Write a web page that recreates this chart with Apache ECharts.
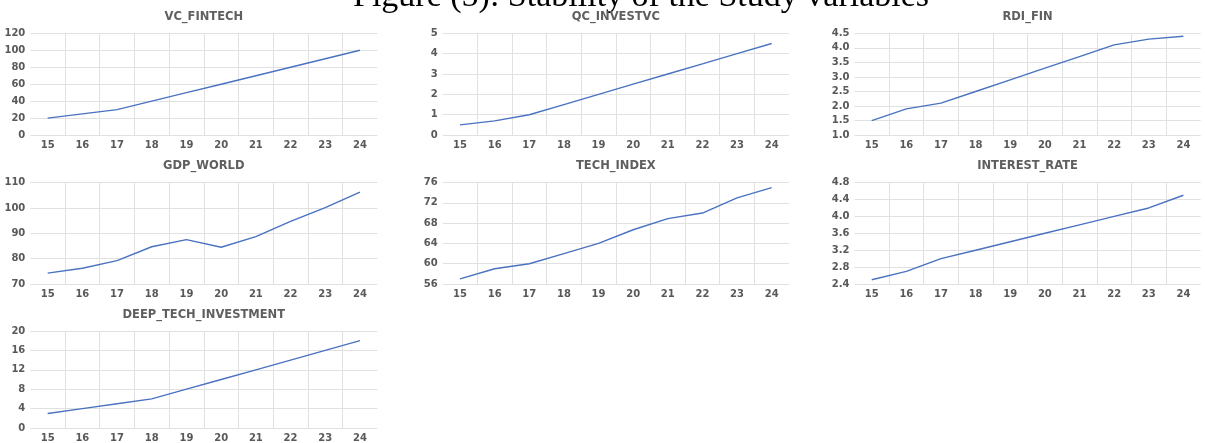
<!DOCTYPE html>
<html>
<head>
<meta charset="utf-8">
<script src="https://cdn.jsdelivr.net/npm/echarts@6/dist/echarts.min.js"></script>
<style>
html,body{margin:0;padding:0;background:#fff;overflow:hidden;}
#c{width:1205px;height:443px;}
</style>
</head>
<body>
<div id="c"></div>
<script>
var years = ['15','16','17','18','19','20','21','22','23','24'];
var figureTitle = 'Figure (5): Stability of the Study variables';
var panelTitles = ['VC_FINTECH','QC_INVESTVC','RDI_FIN','GDP_WORLD','TECH_INDEX','INTEREST_RATE','DEEP_TECH_INVESTMENT'];

var vcFintech = [20, 25, 30, 40, 50, 60, 70, 80, 90, 100];
var qcInvestvc = [0.5, 0.7, 1.0, 1.5, 2.0, 2.5, 3.0, 3.5, 4.0, 4.5];
var rdiFin = [1.5, 1.9, 2.1, 2.5, 2.9, 3.3, 3.7, 4.1, 4.3, 4.4];
var gdpWorld = [74.3, 76.2, 79.2, 84.7, 87.5, 84.5, 88.7, 94.7, 100.1, 106.2];
var techIndex = [57, 59, 60, 62, 64, 66.7, 68.9, 70, 73, 75];
var interestRate = [2.5, 2.7, 3.0, 3.2, 3.4, 3.6, 3.8, 4.0, 4.2, 4.5];
var deepTech = [3, 4, 5, 6, 8, 10, 12, 14, 16, 18];

var yMin = [0, 0, 1.0, 70, 56, 2.4, 0];
var yMax = [120, 5, 4.5, 110, 76, 4.8, 20];
var yStep = [20, 1, 0.5, 10, 4, 0.4, 4];
var yDecimals = [0, 0, 1, 0, 0, 1, 0];

var seriesData = [vcFintech, qcInvestvc, rdiFin, gdpWorld, techIndex, interestRate, deepTech];

// layout (pixels)
var colLeft = [30.3, 442.7, 854.4];
var colWidth = [347, 346.3, 346.3];
var rowTop = [33.3, 182.6, 331];
var rowHeight = [101.8, 101.4, 103];
var titleCenterY = [16.7, 166, 314.7];

var textColor = '#595959';
var gridColor = '#e1e1e1';
var lineColor = '#4a72c0';
var font = '"DejaVu Sans", "Open Sans", sans-serif';

var grids = [], xAxes = [], yAxes = [], series = [], titles = [];
for (var i = 0; i < 7; i++) {
  var r = Math.floor(i / 3), c = i % 3;
  grids.push({left: colLeft[c], top: rowTop[r], width: colWidth[c], height: rowHeight[r], containLabel: false});
  titles.push({
    text: panelTitles[i],
    left: colLeft[c] + colWidth[c] / 2,
    top: titleCenterY[r] - 7,
    padding: 0,
    textAlign: 'center',
    textStyle: {fontFamily: font, fontSize: 11.5, fontWeight: 'bold', color: '#5f5f5f', lineHeight: 14}
  });
  (function(d){
    yAxes.push({
      type: 'value', gridIndex: i, min: yMin[i], max: yMax[i], interval: yStep[i],
      axisLine: {show: false}, axisTick: {show: false},
      axisLabel: {color: textColor, fontFamily: font, fontSize: 10, fontWeight: 'bold', margin: 5,
        formatter: function(v){ return v.toFixed(d); }},
      splitLine: {show: true, lineStyle: {color: gridColor, width: 1}}
    });
  })(yDecimals[i]);
  xAxes.push({
    type: 'category', gridIndex: i, data: years, boundaryGap: true,
    axisLine: {show: false}, axisTick: {show: false},
    axisLabel: {color: textColor, fontFamily: font, fontSize: 10, fontWeight: 'bold', margin: 5, interval: 0},
    splitLine: {show: true, showMinLine: false, showMaxLine: false, interval: 0, lineStyle: {color: gridColor, width: 1}}
  });
  series.push({
    type: 'line', xAxisIndex: i, yAxisIndex: i, data: seriesData[i],
    showSymbol: false, symbol: 'none', smooth: false,
    lineStyle: {color: lineColor, width: 1.4},
    animation: false
  });
}

var chart = echarts.init(document.getElementById('c'), null, {renderer: 'canvas'});
chart.setOption({
  backgroundColor: '#ffffff',
  animation: false,
  title: titles,
  grid: grids,
  xAxis: xAxes,
  yAxis: yAxes,
  series: series,
  graphic: [{
    type: 'text', x: 353, y: -2.5, silent: true,
    style: {text: figureTitle, font: '34px "Liberation Serif", "DejaVu Serif", serif', fill: '#000', textAlign: 'left', textVerticalAlign: 'middle'}
  }]
});
</script>
</body>
</html>
